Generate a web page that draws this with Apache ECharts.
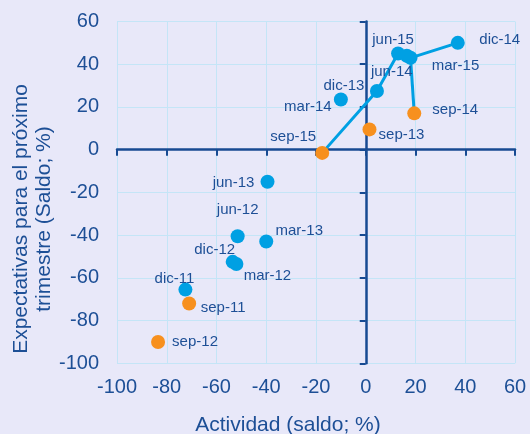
<!DOCTYPE html>
<html><head><meta charset="utf-8">
<script src="https://cdn.jsdelivr.net/npm/echarts@6/dist/echarts.min.js"></script>
<style>html,body{margin:0;padding:0;background:#e8e8f9}#c{width:530px;height:434px}</style>
</head><body><div id="c"></div>
<script>
// ---- data ----
const pointNames   = ['dic-11','sep-11','mar-12','jun-12','sep-12','dic-12','mar-13','jun-13','sep-13','dic-13','mar-14','jun-14','sep-14','dic-14','mar-15','jun-15','sep-15'];
const actividad    = [-72.5, -71, -52, -51.5, -83.5, -53.5, -40, -39.5, 1.5, 4.5, -10, 16.5, 19.5, 37, 18, 13, -17.5];
const expectativas = [-65.5, -72, -53.5, -40.5, -90, -52.5, -43, -15, 9.5, 27.5, 23.5, 44, 17, 50, 43, 45, -1.5];
const pathA = ['sep-15','dic-13','jun-15','jun-14','mar-15','dic-14'];
const pathB = ['mar-15','sep-14'];
const xTitle = 'Actividad (saldo; %)';
const yTitle = 'Expectativas para el próximo\ntrimestre (Saldo; %)';

// ---- styles ----
const BLUE = '#00a0e3', ORANGE = '#f7901e', TEXT = '#1d4f96', AXIS = '#174a92', GRID = '#c4e5f7';
const FONT = 'Liberation Sans, Arial, sans-serif';
const labelOffsets = {
  'dic-14':[42,-3], 'jun-15':[-5,-14], 'jun-14':[-15,16], 'mar-15':[45,8],
  'dic-13':[-33,-5], 'mar-14':[-33,7], 'sep-14':[41,-3], 'sep-13':[32,5],
  'sep-15':[-29,-16], 'jun-13':[-34,1], 'jun-12':[0,-26], 'mar-13':[33,-11],
  'dic-12':[-18,-12], 'mar-12':[31,12], 'dic-11':[-11,-11], 'sep-11':[34,4], 'sep-12':[37,0]
};

const pt = n => { const i = pointNames.indexOf(n); return [actividad[i], expectativas[i]]; };

const scatterData = pointNames.map((n, i) => ({
  name: n,
  value: [actividad[i], expectativas[i]],
  itemStyle: { color: n.startsWith('sep') ? ORANGE : BLUE, opacity: 1 },
  label: { offset: labelOffsets[n] }
}));

const lineSeries = [pathA, pathB].map(p => ({
  type: 'line', data: p.map(pt), symbol: 'none', z: 2, silent: true,
  lineStyle: { color: BLUE, width: 3 }
}));

const chart = echarts.init(document.getElementById('c'), null, { renderer: 'canvas' });
chart.setOption({
  backgroundColor: '#e8e8f9',
  animation: false,
  textStyle: { fontFamily: FONT },
  grid: { left: 117, right: 15, top: 21.5, bottom: 70.7, containLabel: false },
  xAxis: {
    type: 'value', min: -100, max: 60, interval: 20,
    axisLine: { show: true, onZero: true, lineStyle: { color: AXIS, width: 2.5 } },
    axisTick: { show: true, length: 6, lineStyle: { color: AXIS, width: 2 } },
    splitLine: { show: true, lineStyle: { color: GRID, width: 1 } },
    axisLabel: { color: TEXT, fontSize: 20, margin: 14, fontFamily: FONT }
  },
  yAxis: {
    type: 'value', min: -100, max: 60, interval: 20,
    axisLine: { show: true, onZero: true, lineStyle: { color: AXIS, width: 2.5 } },
    axisTick: { show: true, length: 6, lineStyle: { color: AXIS, width: 2 } },
    splitLine: { show: true, lineStyle: { color: GRID, width: 1 } },
    axisLabel: { color: TEXT, fontSize: 20, margin: 18, fontFamily: FONT }
  },
  graphic: [
    { type: 'text', x: 288, y: 425, style: { text: xTitle, fill: TEXT, font: '21px ' + FONT, textAlign: 'center', textVerticalAlign: 'middle' } },
    { type: 'text', x: 33, y: 219, rotation: Math.PI / 2,
      style: { text: yTitle, fill: TEXT, font: '21px ' + FONT, textAlign: 'center', textVerticalAlign: 'middle', lineHeight: 23 } }
  ],
  series: [
    ...lineSeries,
    {
      type: 'scatter', data: scatterData, symbolSize: 14, z: 3,
      itemStyle: { opacity: 1 },
      label: { show: true, formatter: '{b}', position: 'inside', color: TEXT, fontSize: 15, fontFamily: FONT,
               textBorderWidth: 0, textBorderColor: 'transparent' }
    }
  ]
});
</script>
</body></html>
